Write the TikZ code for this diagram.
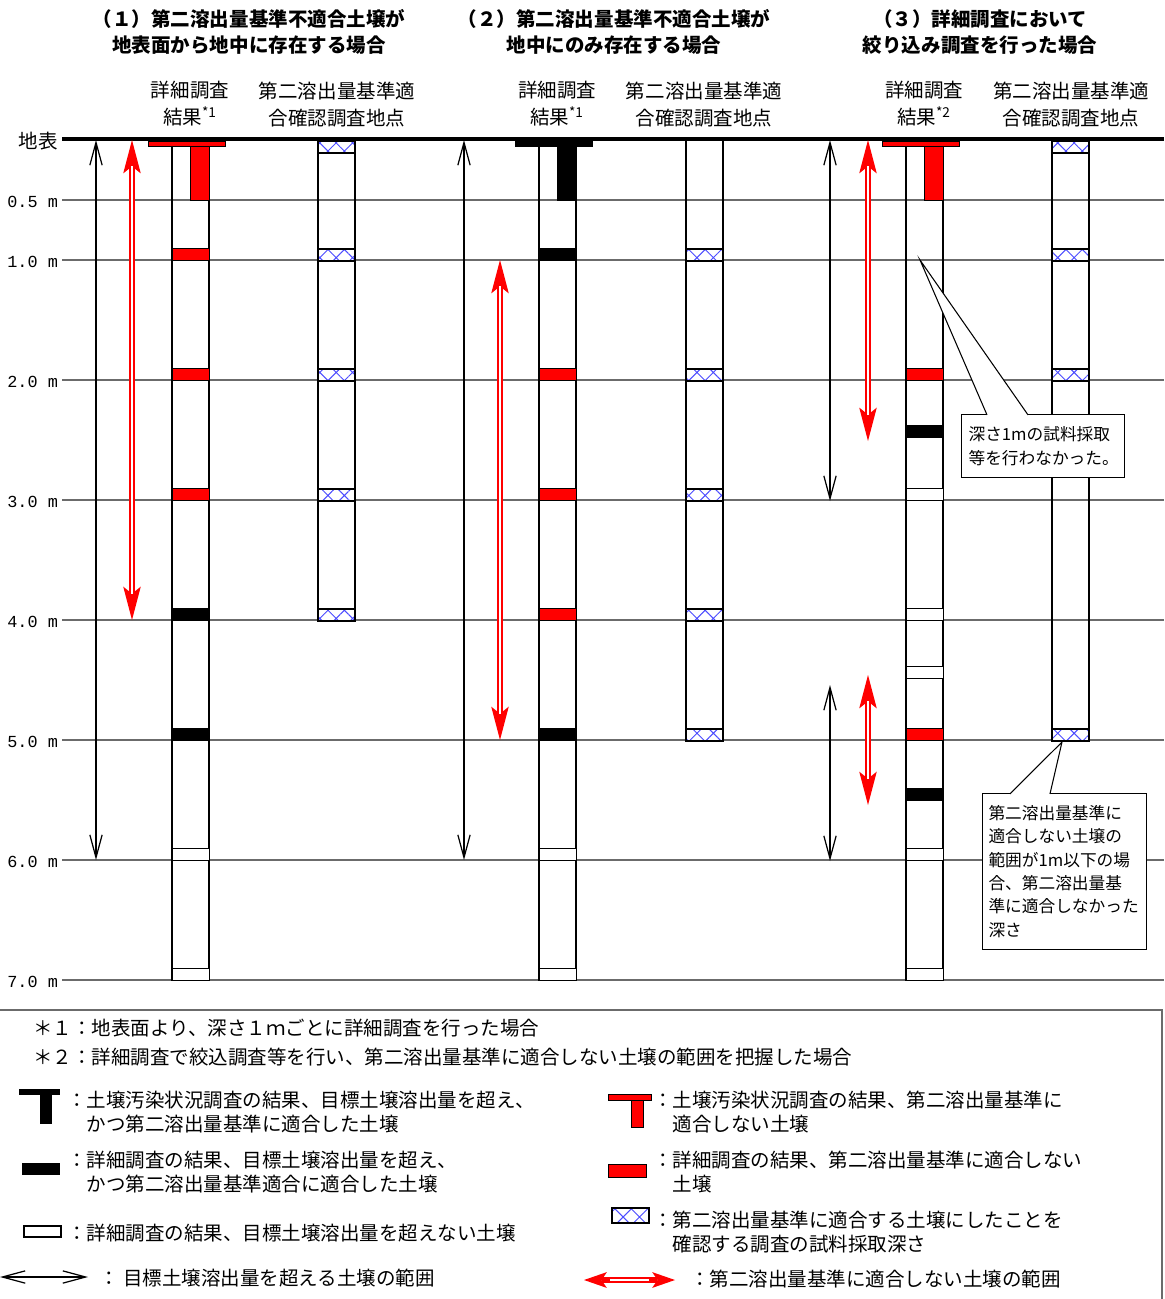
\documentclass[tikz,border=0pt]{standalone}
\usepackage{fontspec}
\setmainfont{Noto Sans CJK JP}
\newfontfamily\depthfont{Liberation Mono}
\usetikzlibrary{arrows.meta,patterns.meta}
\tikzset{
  groundline/.style={line width=2.2pt},
  depthline/.style={black!58, line width=1.5pt},
  boring/.style={draw, line width=1.1pt},
  layer/.style={draw, line width=0.5pt},
  checkpoint/.style={draw, line width=0.6pt, preaction={fill=white},
    pattern={Hatch[angle=45,distance=6.6pt,line width=0.55pt]}, pattern color=blue!70},
  exceedrange/.style={{Straight Barb[length=13pt,width=7pt]}-{Straight Barb[length=13pt,width=7pt]},
    line width=0.7pt},
  failrange/.style={{Stealth[length=19pt,width=10pt,inset=4pt,line width=0pt]}-{Stealth[length=19pt,width=10pt,inset=4pt,line width=0pt]},
    red, line width=3.4pt,
    postaction={draw=white, line width=1.1pt, arrows=-, shorten <=15pt, shorten >=15pt}},
  heading/.style={font=\bfseries\fontsize{11.1}{14.7}\selectfont, align=center},
  colhead/.style={font=\fontsize{11.1}{15.4}\selectfont, align=center},
  depthlabel/.style={font=\depthfont\fontsize{9.6}{11}\selectfont, anchor=east, inner sep=1pt},
  note/.style={draw, fill=white, line width=0.6pt, align=left, anchor=north west,
    font=\fontsize{9.5}{13.3}\selectfont},
  pointer/.style={draw, fill=white, line width=0.6pt},
  legendtext/.style={anchor=west, align=left, inner sep=0pt, font=\fontsize{11.1}{13.6}\selectfont}
}

\begin{document}
\begin{tikzpicture}[x=0.02cm, y=-0.02cm]
  \useasboundingbox (0,0) rectangle (1164,1299);

  % headings
  \node[heading] (case1) at (249,32) {（１）第二溶出量基準不適合土壌が\\地表面から地中に存在する場合};
  \node[heading] (case2) at (614,32) {（２）第二溶出量基準不適合土壌が\\地中にのみ存在する場合};
  \node[heading] (case3) at (980,32) {（３）詳細調査において\\絞り込み調査を行った場合};

  \node[colhead] (detail1) at (190,104) {詳細調査\\結果\textsuperscript{*1}};
  \node[colhead] (check1) at (337,105) {第二溶出量基準適\\合確認調査地点};
  \node[colhead] (detail2) at (557,104) {詳細調査\\結果\textsuperscript{*1}};
  \node[colhead] (check2) at (704,105) {第二溶出量基準適\\合確認調査地点};
  \node[colhead] (detail3) at (924,104) {詳細調査\\結果\textsuperscript{*2}};
  \node[colhead] (check3) at (1071,105) {第二溶出量基準適\\合確認調査地点};

  % depth scale
  \node[depthlabel, font=\fontsize{11.1}{13}\selectfont] (ground) at (60,141) {地表};
  \foreach \d/\t [count=\i] in {0.5/0.5 m,1/1.0 m,2/2.0 m,3/3.0 m,4/4.0 m,5/5.0 m,6/6.0 m,7/7.0 m} {
    \draw[depthline] (62,{140+120*\d}) -- (1164,{140+120*\d});
    \node[depthlabel] (depth\i) at (60,{142+120*\d}) {\t};
  }

  % detail survey columns
  \foreach \x in {172,539,906}
    \draw[boring] (\x,140) rectangle ++(37,840);
  \foreach \d/\c in {1/red,2/red,3/red,4/black,5/black,6/white,7/white}
    \draw[layer, fill=\c] (172,{128+120*\d}) rectangle ++(37,12);
  \foreach \d/\c in {1/black,2/red,3/red,4/red,5/black,6/white,7/white}
    \draw[layer, fill=\c] (539,{128+120*\d}) rectangle ++(37,12);
  \foreach \d/\c in {2/red,2.475/black,3/white,4/white,4.49/white,5/red,5.5/black,6/white,7/white}
    \draw[layer, fill=\c] (906,{128+120*\d}) rectangle ++(37,12);
  \foreach \x/\c in {172/red,539/black,906/red} {
    \draw[layer, fill=\c] ({\x-24},141) rectangle ({\x+53},146.5);
    \draw[layer, fill=\c] ({\x+18},146.5) rectangle ({\x+37},200);
  }

  % check survey columns
  \draw[boring] (318,140) rectangle (355,621);
  \draw[boring] (686,140) rectangle (723,741);
  \draw[boring] (1052,140) rectangle (1089,741);
  \foreach \x in {318,1052}
    \draw[checkpoint] (\x,141) rectangle ++(37,12);
  \foreach \d in {1,2,3,4}
    \draw[checkpoint] (318,{129+120*\d}) rectangle ++(37,12);
  \foreach \d in {1,2,3,4,5}
    \draw[checkpoint] (686,{129+120*\d}) rectangle ++(37,12);
  \foreach \d in {1,2,5}
    \draw[checkpoint] (1052,{129+120*\d}) rectangle ++(37,12);

  \draw[groundline] (62,139) -- (1164,139);

  % ranges
  \draw[exceedrange] (96,140) -- (96,860);
  \draw[exceedrange] (464,140) -- (464,860);
  \draw[exceedrange] (830,140) -- (830,501);
  \draw[exceedrange] (830,685) -- (830,861);
  \draw[failrange] (132,140) -- (132,620);
  \draw[failrange] (500,260) -- (500,740);
  \draw[failrange] (868,140) -- (868,441);
  \draw[failrange] (868,675) -- (868,805);

  % callouts
  \node[note, minimum width=3.26cm, minimum height=1.26cm, text width=2.98cm, inner xsep=4pt]
    (nosample) at (961,414) {深さ1mの試料採取\\等を行わなかった。};
  \coordinate (nosampletip) at (920,260);
  \filldraw[pointer] ([xshift=0.52cm,yshift=-0.5pt]nosample.north west) -- (nosampletip)
    -- ([xshift=1.34cm,yshift=-0.5pt]nosample.north west);

  \node[note, minimum width=3.28cm, minimum height=3.12cm, text width=3.04cm, inner xsep=3.4pt]
    (thinlayer) at (982,793) {第二溶出量基準に\\適合しない土壌の\\範囲が1m以下の場\\合、第二溶出量基\\準に適合しなかった\\深さ};
  \coordinate (thinlayertip) at (1062,742);
  \filldraw[pointer] ([xshift=0.56cm,yshift=-0.5pt]thinlayer.north west) -- (thinlayertip)
    -- ([xshift=1.36cm,yshift=-0.5pt]thinlayer.north west);

  % legend
  \draw[depthline] (0,1010) -- (1162,1010) -- (1162,1299);
  \node[legendtext] (star1) at (33,1028) {＊１：地表面より、深さ１ｍごとに詳細調査を行った場合};
  \node[legendtext] (star2) at (33,1057) {＊２：詳細調査で絞込調査等を行い、第二溶出量基準に適合しない土壌の範囲を把握した場合};

  \fill (19,1089) rectangle (60,1095);
  \fill (40,1095) rectangle (52,1124);
  \node[legendtext] (keyblackT) at (67,1112) {：土壌汚染状況調査の結果、目標土壌溶出量を超え、\\\phantom{：}かつ第二溶出量基準に適合した土壌};
  \fill (22,1163) rectangle (60,1175);
  \node[legendtext] (keyblack) at (67,1172) {：詳細調査の結果、目標土壌溶出量を超え、\\\phantom{：}かつ第二溶出量基準適合に適合した土壌};
  \draw[layer, line width=0.8pt] (24,1226) rectangle (61,1237);
  \node[legendtext] (keywhite) at (67,1233) {：詳細調査の結果、目標土壌溶出量を超えない土壌};
  \draw[exceedrange] (0,1277) -- (88,1277);
  \node[legendtext] (keyexceed) at (99,1278) {：\ 目標土壌溶出量を超える土壌の範囲};

  \draw[layer, fill=red] (608,1094) rectangle (651,1100);
  \draw[layer, fill=red] (631,1100) rectangle (643,1127);
  \node[legendtext] (keyredT) at (653,1112) {：土壌汚染状況調査の結果、第二溶出量基準に\\\phantom{：}適合しない土壌};
  \draw[layer, fill=red] (608,1164) rectangle (646,1177);
  \node[legendtext] (keyred) at (653,1172) {：詳細調査の結果、第二溶出量基準に適合しない\\\phantom{：}土壌};
  \draw[checkpoint] (612,1208) rectangle (649,1223);
  \node[legendtext] (keycheck) at (653,1232) {：第二溶出量基準に適合する土壌にしたことを\\\phantom{：}確認する調査の試料採取深さ};
  \draw[failrange, {Stealth[length=13pt,width=9pt,inset=3pt,line width=0pt]}-{Stealth[length=13pt,width=9pt,inset=3pt,line width=0pt]}]
    (584,1280) -- (675,1280);
  \node[legendtext] (keyfail) at (690,1279) {：第二溶出量基準に適合しない土壌の範囲};
\end{tikzpicture}
\end{document}
